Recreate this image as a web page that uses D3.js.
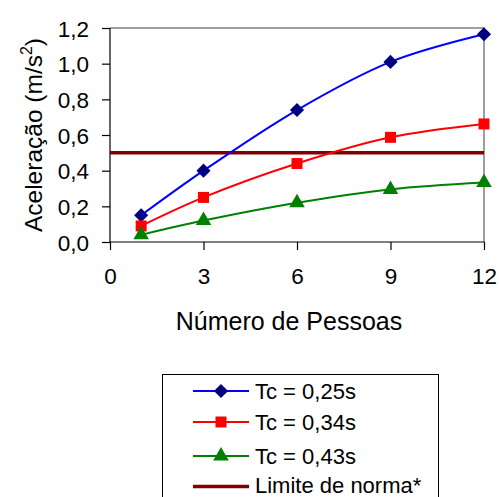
<!DOCTYPE html>
<html><head><meta charset="utf-8">
<script src="https://cdn.jsdelivr.net/npm/d3@7"></script>
<style>body{margin:0;background:#fff}svg{display:block;font-family:"Liberation Sans",Arial,sans-serif}</style>
</head><body><div id="c"></div>
<script>
const xValues = [1, 3, 6, 9, 12];
const seriesNames = ["Tc = 0,25s", "Tc = 0,34s", "Tc = 0,43s"];
const serie025 = [0.15, 0.40, 0.74, 1.01, 1.165];
const serie034 = [0.09, 0.25, 0.44, 0.587, 0.662];
const serie043 = [0.04, 0.12, 0.22, 0.295, 0.333];
const limitName = "Limite de norma*";
const limitValue = 0.5;
const xTicks = [0, 3, 6, 9, 12];
const yTicks = [0, 0.2, 0.4, 0.6, 0.8, 1.0, 1.2];

const W = 499, H = 497;
const svg = d3.select("#c").append("svg").attr("width", W).attr("height", H);
const x = d3.scaleLinear().domain([0, 12]).range([110, 484]);
const y = d3.scaleLinear().domain([0, 1.2]).range([242, 28]);
const fmt = d => d3.format(".1f")(d).replace(".", ",");
const FF = "Liberation Sans, Arial, sans-serif";

// plot frame (top/right gray)
svg.append("path").attr("d", `M${x(0)},${y(1.2)}H${x(12)}V${y(0)}`)
  .attr("fill","none").attr("stroke","#808080").attr("stroke-width",1.5);

const yAxis = svg.append("g").attr("transform", `translate(${x(0)},0)`)
  .call(d3.axisLeft(y).tickValues(yTicks).tickFormat(fmt).tickSize(8).tickPadding(13));
const xAxis = svg.append("g").attr("transform", `translate(0,${y(0)})`)
  .call(d3.axisBottom(x).tickValues(xTicks).tickSize(8).tickPadding(19));
[yAxis, xAxis].forEach(a => {
  a.attr("font-size",22.5).attr("font-family",FF);
  a.selectAll("path,line").attr("stroke","#000").attr("stroke-width",1.2);
  a.selectAll("text").attr("fill","#000");
});
yAxis.selectAll("text").attr("dy","0.36em");
xAxis.selectAll("text").attr("dy","0.68em");
xAxis.select(".domain").attr("d", `M${x(0)},0H${x(12)}`);
yAxis.select(".domain").attr("d", `M0,${y(0)}V${y(1.2)}`);

// axis titles
const yt = svg.append("text").attr("transform", `translate(42,${(y(0)+y(1.2))/2}) rotate(-90)`)
  .attr("text-anchor","middle").attr("font-size",24.5).attr("fill","#000");
yt.append("tspan").text("Aceleração (m/s");
yt.append("tspan").attr("font-size",16).attr("dy",-10).text("2");
yt.append("tspan").attr("dy",10).text(")");
svg.append("text").attr("x", 289).attr("y", 330).attr("text-anchor","middle")
  .attr("font-size",25).attr("fill","#000").text("Número de Pessoas");

// limit line
svg.append("line").attr("x1", x(0)).attr("x2", x(12)).attr("y1", y(limitValue)).attr("y2", y(limitValue))
  .attr("stroke","#800000").attr("stroke-width",3.5);

const series = [
  {name: seriesNames[0], values: serie025, line:"#0000FF", fill:"#000080", sym:d3.symbolSquare, size:100, rot:45},
  {name: seriesNames[1], values: serie034, line:"#FF0000", fill:"#FF0000", sym:d3.symbolSquare, size:121, rot:0},
  {name: seriesNames[2], values: serie043, line:"#008000", fill:"#008000", sym:d3.symbolTriangle, size:105, rot:0}
];
const line = d3.line().x(d => x(d[0])).y(d => y(d[1])).curve(d3.curveCatmullRom.alpha(0.5));
series.forEach(s => {
  const pts = xValues.map((v,i) => [v, s.values[i]]);
  svg.append("path").attr("d", line(pts)).attr("fill","none").attr("stroke", s.line).attr("stroke-width",2);
  svg.selectAll(null).data(pts).enter().append("path")
    .attr("d", d3.symbol().type(s.sym).size(s.size))
    .attr("transform", d => `translate(${x(d[0])},${y(d[1])}) rotate(${s.rot})`)
    .attr("fill", s.fill);
});

// legend
const lg = svg.append("g");
lg.append("rect").attr("x",162.5).attr("y",374.5).attr("width",276).attr("height",140)
  .attr("fill","#fff").attr("stroke","#000").attr("stroke-width",1);
const rows = [391, 422, 456, 486.5];
series.forEach((s,i) => {
  lg.append("line").attr("x1",193).attr("x2",249).attr("y1",rows[i]).attr("y2",rows[i]).attr("stroke",s.line).attr("stroke-width",2);
  lg.append("path").attr("d", d3.symbol().type(s.sym).size(s.size)).attr("transform",`translate(221,${rows[i]}) rotate(${s.rot})`).attr("fill",s.fill);
  lg.append("text").attr("x",255).attr("y",rows[i]+7.5).attr("font-size",22).attr("fill","#000").text(s.name);
});
lg.append("line").attr("x1",193).attr("x2",249).attr("y1",rows[3]).attr("y2",rows[3]).attr("stroke","#800000").attr("stroke-width",3.5);
lg.append("text").attr("x",255).attr("y",rows[3]+6.5).attr("font-size",22).attr("fill","#000").text(limitName);
</script></body></html>
